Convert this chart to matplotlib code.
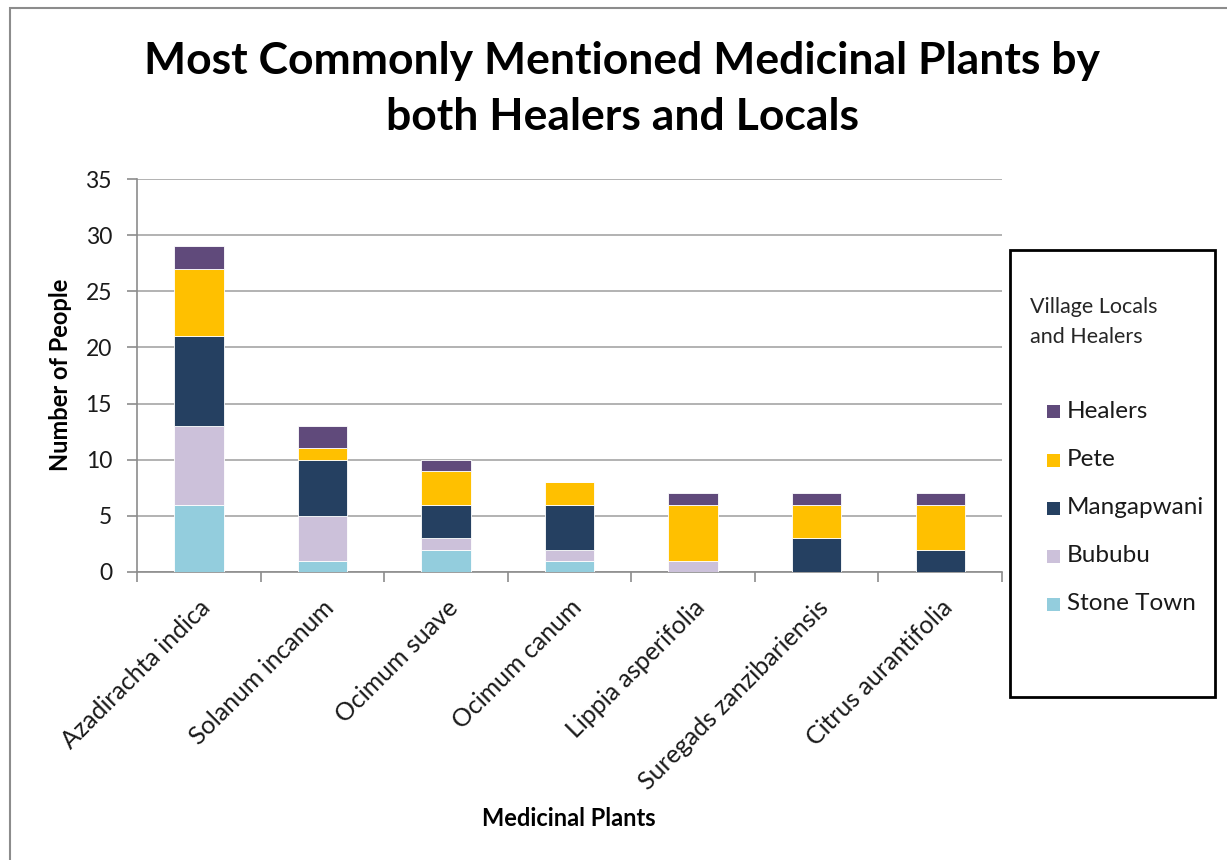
import numpy as np
import matplotlib.pyplot as plt
from matplotlib.patches import Rectangle

plt.rcParams['font.family'] = ['Lato', 'DejaVu Sans']

# data
plants = ['Azadirachta indica', 'Solanum incanum', 'Ocimum suave', 'Ocimum canum',
          'Lippia asperifolia', 'Suregads zanzibariensis', 'Citrus aurantifolia']
stone_town = [6, 1, 2, 1, 0, 0, 0]
bububu = [7, 4, 1, 1, 1, 0, 0]
mangapwani = [8, 5, 3, 4, 0, 3, 2]
pete = [6, 1, 3, 2, 5, 3, 4]
healers = [2, 2, 1, 0, 1, 1, 1]

series_names = ['Stone Town', 'Bububu', 'Mangapwani', 'Pete', 'Healers']
series_vals = [stone_town, bububu, mangapwani, pete, healers]
colors = ['#93CDDD', '#CCC1DA', '#254061', '#FFC000', '#604A7B']

W, H = 1227, 860
fig = plt.figure(figsize=(W / 100, H / 100), dpi=100)
fig.patch.set_facecolor('white')

# outer chart border (only left/top edges visible)
fig.patches.append(Rectangle((10 / W, -0.05), 1.2, 1 - 8 / H + 0.05,
                             transform=fig.transFigure, fill=False,
                             edgecolor='#8c8c8c', lw=1.5))

ax = fig.add_axes([137 / W, 1 - 572 / H, (1002 - 137) / W, (572 - 179) / H])
x = np.arange(len(plants))
bottom = np.zeros(len(plants))
for name, vals, c in zip(series_names, series_vals, colors):
    ax.bar(x, vals, width=0.4, bottom=bottom, color=c, edgecolor='white',
           linewidth=0.6, label=name, zorder=3)
    bottom += np.array(vals)

ax.set_xlim(-0.5, len(plants) - 0.5)
ax.set_ylim(0, 35)
ax.set_yticks(np.arange(0, 36, 5))
ax.yaxis.grid(True, color='#a6a6a6', lw=1.2, zorder=0)
for s in ['top', 'right']:
    ax.spines[s].set_visible(False)
for s in ['left', 'bottom']:
    ax.spines[s].set_color('#8c8c8c')
    ax.spines[s].set_linewidth(1.2)

ax.set_xticks(x)
ax.set_xticklabels(plants, rotation=45, ha='right', va='top',
                   rotation_mode='anchor', fontsize=18, color='#1a1a1a')
ax.tick_params(axis='x', length=0, pad=17)
ax.set_xticks(np.arange(-0.5, len(plants), 1), minor=True)
ax.tick_params(axis='x', which='minor', length=7, color='#8c8c8c', width=1.2)
ax.tick_params(axis='y', length=7, color='#8c8c8c', width=1.2, labelsize=16.5,
               pad=11, labelcolor='#1a1a1a')

fig.text(60 / W, 1 - 375 / H, 'Number of People', fontsize=17, fontweight='bold',
         rotation=90, ha='center', va='center')
fig.text(569 / W, 1 - 818 / H, 'Medicinal Plants', fontsize=17,
         fontweight='bold', ha='center', va='center')

fig.text(622 / W, 1 - 89 / H,
         'Most Commonly Mentioned Medicinal Plants by\nboth Healers and Locals',
         fontsize=32, fontweight='bold', ha='center', va='center', linespacing=1.5)

# legend box drawn manually
fig.patches.append(Rectangle((1010 / W, 1 - 697 / H), 205 / W, 447 / H,
                             transform=fig.transFigure, fill=False,
                             edgecolor='black', lw=2))
fig.text(1030 / W, 1 - 322 / H, 'Village Locals\nand Healers', fontsize=15.5,
         ha='left', va='center', linespacing=1.6, color='#262626')
ys = [411, 460, 508, 556, 604]
for y, name, c in zip(ys, series_names[::-1], colors[::-1]):
    fig.patches.append(Rectangle((1047 / W, 1 - (y + 7) / H), 13 / W, 13 / H,
                                 transform=fig.transFigure, facecolor=c,
                                 edgecolor='none'))
    fig.text(1067 / W, 1 - y / H, name, fontsize=17.5, ha='left',
             va='center', color='#1a1a1a')

fig.savefig('out.png', dpi=100)
